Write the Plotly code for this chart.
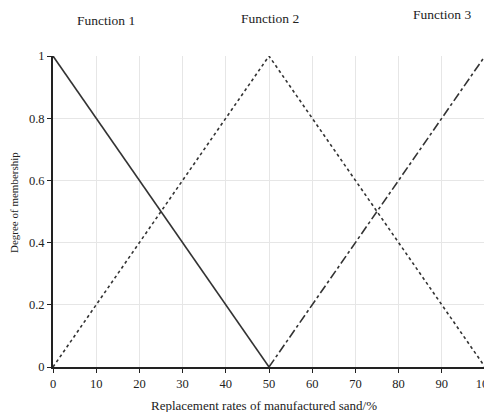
import plotly.graph_objects as go

x1 = [0, 50]
y1 = [1, 0]
x2 = [0, 50, 100]
y2 = [0, 1, 0]
x3 = [50, 100]
y3 = [0, 1]
x_ticks = [0, 10, 20, 30, 40, 50, 60, 70, 80, 90, 100]
y_ticks = [0, 0.2, 0.4, 0.6, 0.8, 1]
y_tick_text = ["0", "0.2", "0.4", "0.6", "0.8", "1"]
titles = ["Function 1", "Function 2", "Function 3"]
x_title = "Replacement rates of manufactured sand/%"
y_title = "Degree of membership"

font = "Liberation Serif, Times New Roman, serif"
OFF = 8  # default page body margin
W, H = 492 - OFF, 412 - OFF
L, R, T, B = 53 - OFF, 7, 56 - OFF, 45
PW, PH = W - L - R, H - T - B


def paper(px, py):
    fx, fy = px - OFF, py - OFF
    return (fx - L) / PW, (H - B - fy) / PH


fig = go.Figure()
fig.add_trace(go.Scatter(x=x1, y=y1, mode="lines", line=dict(color="#333333", width=1.6, dash="solid"), name=titles[0]))
fig.add_trace(go.Scatter(x=x2, y=y2, mode="lines", line=dict(color="#333333", width=1.6, dash="dot"), name=titles[1]))
fig.add_trace(go.Scatter(x=x3, y=y3, mode="lines", line=dict(color="#333333", width=1.6, dash="dashdot"), name=titles[2]))

fig.update_layout(
    width=W, height=H,
    margin=dict(l=L, r=R, t=T, b=B, autoexpand=False),
    paper_bgcolor="white", plot_bgcolor="white",
    showlegend=False,
    font=dict(family=font, size=12, color="#222222"),
    xaxis=dict(range=[0, 100], tickvals=x_ticks, showgrid=True, gridcolor="#e6e6e6", gridwidth=1,
               showline=True, linecolor="#222222", linewidth=2, ticks="outside", ticklen=4,
               tickcolor="#222222", zeroline=False, tickfont=dict(size=12.5),
               ticklabeloverflow="allow"),
    yaxis=dict(range=[0, 1], tickvals=y_ticks, ticktext=y_tick_text, showgrid=True, gridcolor="#e6e6e6",
               showline=True, linecolor="#222222", linewidth=2, ticks="outside", ticklen=4,
               tickcolor="#222222", zeroline=False, tickfont=dict(size=12.5),
               ticklabeloverflow="allow"),
)

pos = [(106, 20), (270, 18), (442, 14)]
for t, (px, py) in zip(titles, pos):
    ax, ay = paper(px, py)
    fig.add_annotation(text=t, x=ax, y=ay, xref="paper", yref="paper", showarrow=False,
                       font=dict(size=13.5, family=font, color="#222222"),
                       xanchor="center", yanchor="middle")

ax, ay = paper(264, 405)
fig.add_annotation(text=x_title, x=ax, y=ay, xref="paper", yref="paper", showarrow=False,
                   font=dict(size=13, family=font, color="#222222"), xanchor="center", yanchor="middle")
ax, ay = paper(14, 203)
fig.add_annotation(text=y_title, x=ax, y=ay, xref="paper", yref="paper", showarrow=False, textangle=-90,
                   font=dict(size=11, family=font, color="#222222"), xanchor="center", yanchor="middle")

fig.write_html("out.html")
